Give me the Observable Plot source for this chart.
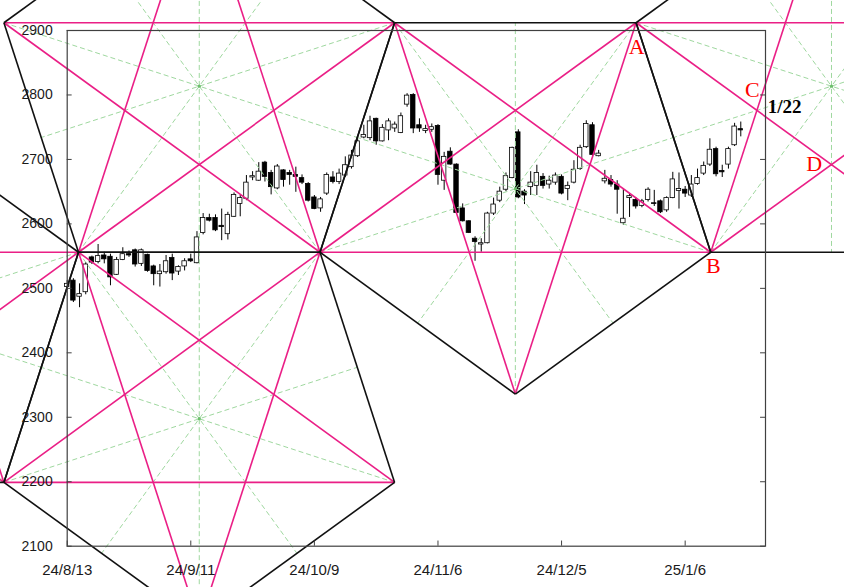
<!DOCTYPE html>
<html><head><meta charset="utf-8">
<script src="https://cdn.jsdelivr.net/npm/d3@7"></script>
<script src="https://cdn.jsdelivr.net/npm/@observablehq/plot@0.6"></script>
<style>
html,body{margin:0;padding:0;background:#fff;overflow:hidden;}
svg{overflow:hidden;display:block;}
</style></head><body>
<div id="chart"></div>
<script>
// ---- candle data (trading-day index 0..109) ----
const opens = [2502,2512,2487,2494,2548,2541,2551,2549,2521,2544,
2553,2559,2538,2552,2534,2522,2525,2547,2526,2534,
2545,2539,2586,2609,2609,2597,2584,2611,2631,2639,
2672,2667,2695,2679,2655,2683,2679,2676,2671,2662,
2641,2624,2647,2672,2665,2675,2688,2705,2734,2733,
2763,2728,2745,2748,2741,2785,2800,2753,2744,2746,
2752,2667,2712,2692,2624,2604,2577,2568,2570,2616,
2636,2653,2671,2742,2650,2657,2659,2673,2661,2664,
2673,2654,2664,2685,2719,2753,2705,2666,2668,2661,
2601,2640,2637,2628,2637,2632,2635,2621,2640,2651,
2653,2644,2662,2678,2692,2716,2682,2692,2722,2747];
const highs = [2512,2515,2507,2540,2550,2568,2556,2553,2548,2563,
2558,2561,2561,2553,2536,2537,2551,2553,2535,2546,
2553,2588,2616,2615,2614,2623,2618,2648,2644,2675,
2681,2695,2697,2683,2692,2684,2683,2688,2676,2664,
2644,2641,2679,2681,2685,2704,2714,2732,2753,2767,
2764,2754,2763,2758,2772,2802,2802,2763,2753,2755,
2754,2711,2718,2693,2631,2605,2580,2577,2618,2640,
2657,2679,2719,2746,2653,2681,2691,2678,2674,2679,
2676,2665,2698,2722,2760,2757,2714,2683,2675,2667,
2654,2646,2641,2638,2656,2652,2637,2642,2680,2679,
2658,2675,2685,2696,2732,2719,2691,2719,2756,2758];
const lows = [2497,2478,2470,2490,2537,2538,2538,2504,2520,2543,
2548,2533,2534,2525,2504,2502,2522,2512,2520,2527,
2540,2538,2583,2603,2588,2574,2575,2610,2611,2636,
2667,2666,2665,2645,2653,2657,2660,2649,2661,2634,
2622,2618,2644,2662,2661,2672,2685,2703,2732,2729,
2722,2727,2729,2742,2740,2781,2740,2742,2740,2742,
2660,2652,2691,2616,2603,2585,2542,2556,2569,2613,
2633,2650,2670,2639,2630,2644,2644,2654,2654,2660,
2645,2636,2662,2683,2717,2705,2704,2662,2657,2615,
2598,2610,2623,2625,2634,2627,2616,2618,2639,2623,
2641,2641,2660,2675,2689,2673,2672,2685,2720,2735];
const closes = [2507,2481,2491,2537,2540,2550,2545,2517,2544,2553,
2551,2537,2559,2527,2522,2526,2542,2523,2533,2542,
2542,2579,2609,2605,2590,2595,2614,2645,2640,2664,
2674,2681,2673,2657,2689,2668,2676,2673,2664,2636,
2623,2638,2676,2665,2678,2691,2706,2728,2738,2759,
2728,2749,2759,2754,2767,2799,2748,2748,2747,2750,
2676,2704,2692,2617,2604,2586,2572,2570,2616,2630,
2650,2674,2718,2641,2644,2664,2679,2659,2667,2675,
2647,2659,2684,2718,2755,2707,2709,2670,2661,2653,
2608,2643,2627,2635,2653,2631,2618,2640,2669,2654,
2647,2661,2671,2690,2715,2677,2680,2716,2751,2745];

// ---- axes ----
const xTickIdx = [0, 20, 40, 60, 80, 100];
const xTickLabels = ["24/8/13", "24/9/11", "24/10/9", "24/11/6", "24/12/5", "25/1/6"];
const yTicks = [2100, 2200, 2300, 2400, 2500, 2600, 2700, 2800, 2900];

// ---- pentagon vertices [trading-day index, price] ----
const pentA = [[52.98, 2912], [92.06, 2912], [104.14, 2556], [72.52, 2336], [40.91, 2556]];
const pentB = [[1.83, 2556], [40.91, 2556], [52.98, 2199], [21.37, 1979], [-10.24, 2199]];
const pentC = [[21.37, 3132], [52.98, 2912], [40.91, 2556], [1.83, 2556], [-10.24, 2912]];
const pentD = [[123.68, 3132], [155.29, 2912], [143.22, 2556], [104.14, 2556], [92.06, 2912]];
const pentE = [[1.83, 2556], [-10.24, 2199], [-49.32, 2199], [-61.39, 2556], [-29.78, 2776]];

// ---- annotations ----
const noteText = ["A", "B", "C", "D"];
const noteX = [92.15, 104.58, 110.86, 120.89];
const noteY = [2875, 2534, 2808, 2693];
const dateNoteText = ["1/22"];
const dateNoteX = [113.37];
const dateNoteY = [2781];

// ---- build tables ----
const candles = opens.map((o, i) => ({i, o, h: highs[i], l: lows[i], c: closes[i]}));
const pents = [pentA, pentB, pentC, pentD, pentE];
const edges = [], diags = [], axesSeg = [], centers = [];
for (const P of pents) {
  centers.push([d3.mean(P, p => p[0]), d3.mean(P, p => p[1])]);
  for (let k = 0; k < 5; k++) {
    const a = P[k], b = P[(k + 1) % 5], c = P[(k + 2) % 5], d = P[(k + 3) % 5];
    edges.push({x1: a[0], y1: a[1], x2: b[0], y2: b[1]});
    diags.push({x1: a[0], y1: a[1], x2: c[0], y2: c[1]});
    axesSeg.push({x1: a[0], y1: a[1], x2: (c[0] + d[0]) / 2, y2: (c[1] + d[1]) / 2});
  }
}
const notes = noteText.map((t, i) => ({t, x: noteX[i], y: noteY[i]}));
const dateNotes = dateNoteText.map((t, i) => ({t, x: dateNoteX[i], y: dateNoteY[i]}));

const PINK = "#ea1f86";
const GREEN = "#9fd89f";
const AXIS = "#404040";

const chart = Plot.plot({
  width: 844,
  height: 587,
  marginLeft: 66.7,
  marginRight: 79,
  marginTop: 30,
  marginBottom: 41.3,
  x: {type: "linear", domain: [0, 113], axis: null},
  y: {type: "linear", domain: [2100, 2900], axis: null},
  marks: [
    // candles
    Plot.ruleX(candles, {x: "i", y1: "l", y2: "h", stroke: "#000", strokeWidth: 1}),
    Plot.rect(candles, {
      x1: d => d.i - 0.36, x2: d => d.i + 0.36,
      y1: d => Math.min(d.o, d.c), y2: d => Math.max(d.o, d.c),
      fill: d => d.c >= d.o ? "#ffffff" : "#000000",
      stroke: "#000", strokeWidth: 0.8
    }),
    // pentagon symmetry axes
    Plot.link(axesSeg, {x1: "x1", y1: "y1", x2: "x2", y2: "y2", stroke: GREEN, strokeWidth: 1, strokeDasharray: "5,3"}),
    Plot.dot(centers, {x: d => d[0], y: d => d[1], r: 1.6, fill: "#6cbf6c", stroke: "none"}),
    // pentagram diagonals
    Plot.link(diags, {x1: "x1", y1: "y1", x2: "x2", y2: "y2", stroke: PINK, strokeWidth: 1.6}),
    // pentagon edges
    Plot.link(edges, {x1: "x1", y1: "y1", x2: "x2", y2: "y2", stroke: "#111", strokeWidth: 1.6}),
    // frame and ticks
    Plot.frame({stroke: AXIS, strokeWidth: 1.2}),
    Plot.ruleY(yTicks, {y: d => d, x1: () => 0, x2: () => 0.8, stroke: AXIS, strokeWidth: 1}),
    Plot.ruleY(yTicks, {y: d => d, x1: () => 112.2, x2: () => 113, stroke: AXIS, strokeWidth: 1}),
    Plot.ruleX(xTickIdx, {x: d => d, y1: () => 2100, y2: () => 2108, stroke: AXIS, strokeWidth: 1}),
    Plot.text(yTicks, {x: () => 0, y: d => d, text: d => String(d), textAnchor: "end", dx: -14.5,
      fontSize: 14, fontFamily: "Liberation Sans, Arial, sans-serif", fill: "#1a1a1a"}),
    Plot.text(xTickIdx, {x: d => d, y: () => 2100, text: (d, i) => xTickLabels[i], dy: 23.5,
      fontSize: 15, fontFamily: "Liberation Sans, Arial, sans-serif", fill: "#1a1a1a"}),
    // annotations
    Plot.text(notes, {x: "x", y: "y", text: "t", fontSize: 22, fontFamily: "Liberation Serif, Times New Roman, serif", fill: "#ff0000"}),
    Plot.text(dateNotes, {x: "x", y: "y", text: "t", textAnchor: "start", fontSize: 19, fontWeight: "bold",
      fontFamily: "Liberation Serif, Times New Roman, serif", fill: "#000"})
  ]
});
document.getElementById("chart").appendChild(chart);
</script>
</body></html>
